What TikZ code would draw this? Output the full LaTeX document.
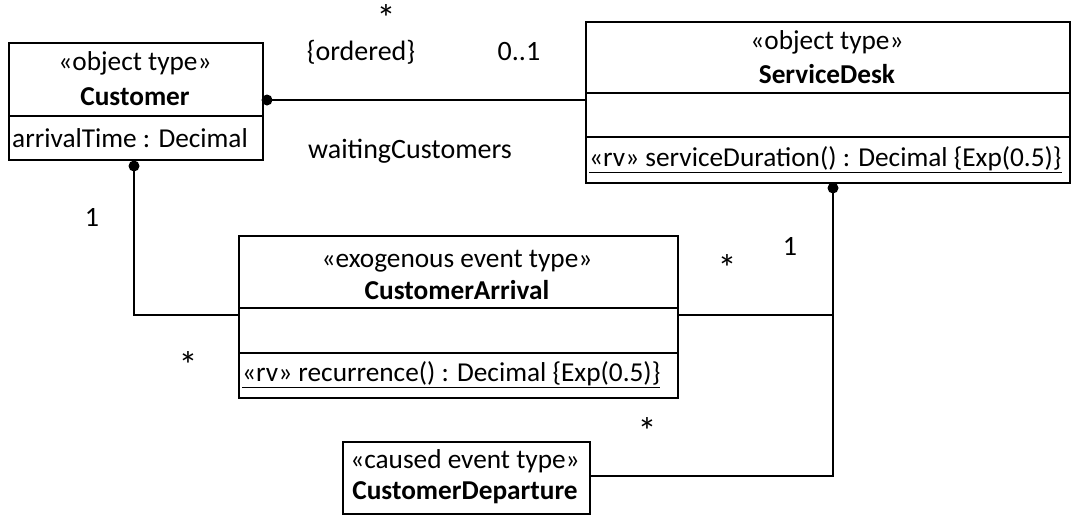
\documentclass[tikz,border=0pt]{standalone}
\usepackage{fontspec}
\setmainfont{Carlito}
\begin{document}
\begin{tikzpicture}[x=1pt,y=-1pt,
  box/.style={draw,line width=1.7pt,inner sep=0pt,anchor=north west},
  sep/.style={line width=1.7pt},
  conn/.style={line width=1.2pt},
  txt/.style={inner sep=0pt,font=\fontsize{27.3}{32}\selectfont},
  lbl/.style={inner sep=0pt,font=\fontsize{28}{32}\selectfont},
  star/.style={inner sep=0pt,font=\fontsize{38}{40}\selectfont},
  dot/.style={circle,fill=black,inner sep=0pt,minimum size=11pt}]
\useasboundingbox (0,0) rectangle (1071,517);
% Customer
\node[box,minimum width=254pt,minimum height=117pt] (cust) at (8,42) {};
\draw[sep] (8,116) -- (262,116);
\node[txt] (custst) at (135,63) {«object type»};
\node[txt] (custnm) at (135,97) {\bfseries Customer};
\node[txt,anchor=west] (custat) at (12,138) {arrivalTime : Decimal};
% ServiceDesk
\node[box,minimum width=484pt,minimum height=161pt] (sd) at (585,21) {};
\draw[sep] (585,93) -- (1069,93);
\draw[sep] (585,137) -- (1069,137);
\node[txt] (sdst) at (827,42) {«object type»};
\node[txt] (sdnm) at (827,74) {\bfseries ServiceDesk};
\node[txt,anchor=west] (sdop) at (589,160) {\underline{«rv» serviceDuration() : Decimal \{Exp(0.5)\}}};
% CustomerArrival
\node[box,minimum width=439pt,minimum height=162pt] (ca) at (238,235) {};
\draw[sep] (238,308) -- (677,308);
\draw[sep] (238,353) -- (677,353);
\node[txt] (cast) at (457,261) {«exogenous event type»};
\node[txt] (canm) at (457,290) {\bfseries CustomerArrival};
\node[txt,anchor=west] (caop) at (242,375) {\underline{«rv» recurrence() : Decimal \{Exp(0.5)\}}};
% CustomerDeparture
\node[box,minimum width=247pt,minimum height=72pt] (cd) at (342,441) {};
\node[txt] (cdst) at (465,461) {«caused event type»};
\node[txt] (cdnm) at (465,493) {\bfseries CustomerDeparture};
% dots
\node[dot] (d1) at (267,100) {};
\node[dot] (d2) at (134,166) {};
\node[dot] (d3) at (833,188) {};
% connectors
\draw[conn] (d1.center) -- (sd.west |- d1.center);
\coordinate (c1) at (134,315);
\coordinate (c2) at (833,315);
\coordinate (c3) at (833,476);
\draw[conn] (d2.center) -- (c1) -- (ca.west |- c1);
\draw[conn] (ca.east |- c2) -- (c2);
\draw[conn] (d3.center) -- (c3) -- (cd.east |- c3);
% labels
\node[star] (l1) at (386,18) {*};
\node[lbl] (l2) at (361,52) {\{ordered\}};
\node[lbl] (l3) at (519,52) {0..1};
\node[lbl] (l4) at (410,151) {waitingCustomers};
\node[lbl] (l5) at (92,217) {1};
\node[star] (l6) at (188,365) {*};
\node[star] (l7) at (727,268) {*};
\node[lbl] (l8) at (790,246) {1};
\node[star] (l9) at (647,431) {*};
\end{tikzpicture}
\end{document}
